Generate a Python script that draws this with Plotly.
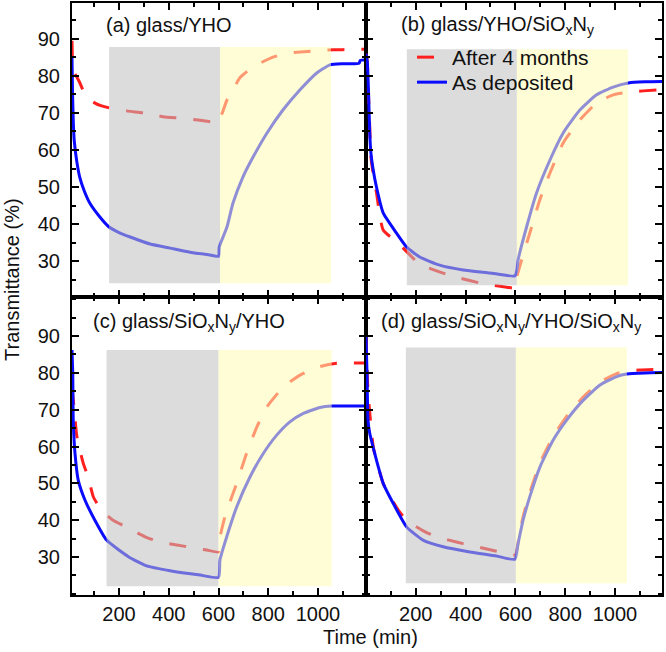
import plotly.graph_objects as go

# ---------------- data ----------------
# (a) glass/YHO
a_dep_t = [11, 13, 16, 20, 30, 42, 60, 83, 123, 160, 200, 245, 325, 405, 485, 560, 600, 603, 634, 658, 698, 739, 795, 859, 927, 995, 1048, 1100, 1165, 1170, 1195]
a_dep_v = [85, 76, 68, 62.5, 57, 52.7, 49, 45.6, 41.9, 39.2, 37.7, 36.5, 34.6, 33.5, 32.4, 31.7, 31.3, 33.8, 39.2, 45.6, 52.7, 58.1, 64.6, 70.8, 76.2, 80.8, 83, 83.3, 83.4, 84.2, 84.3]
a_aged_t = [11, 13, 16, 23, 40, 55, 75, 100, 130, 172, 236, 304, 377, 445, 518, 594, 600, 606, 618, 634, 658, 686, 738, 819, 887, 960, 1028, 1100, 1195]
a_aged_v = [89.5, 84, 81, 80.5, 78.5, 76.2, 74, 72.8, 71.9, 71.2, 70.5, 70, 69, 68.6, 68.1, 67.4, 67.4, 68.5, 70.5, 73.5, 76.2, 79.5, 82.4, 85.1, 86.2, 86.6, 87, 87.1, 87.2]

# (b) glass/YHO/SiOxNy
b_dep_t = [0, 5, 10, 15, 20, 28, 42, 69, 122, 163, 216, 296, 390, 497, 598, 606, 611, 645, 685, 739, 792, 859, 926, 993, 1054, 1120, 1190]
b_dep_v = [86, 84, 76, 64.6, 59, 55, 50, 43, 37.6, 33.8, 31.1, 28.9, 27.6, 26.8, 26, 27.5, 30.3, 39.2, 48.4, 57.3, 64.6, 70.8, 74.9, 77, 78.1, 78.4, 78.5]
b_aged_t = [0, 5, 10, 15, 20, 28, 42, 69, 129, 216, 343, 464, 590, 600, 603, 625, 658, 698, 739, 792, 859, 926, 993, 1061, 1168, 1190]
b_aged_v = [86, 84, 75, 66.2, 58, 54, 48.5, 38.4, 34.9, 29.2, 26, 24, 22.7, 22.5, 25, 30.3, 37.6, 46.5, 53.8, 61.9, 68.1, 72.7, 74.9, 75.7, 76.2, 76.3]

# (c) glass/SiOxNy/YHO
c_dep_t = [11, 14, 16, 23, 36, 63, 103, 150, 238, 311, 405, 526, 600, 606, 633, 673, 727, 780, 834, 887, 941, 1008, 1055, 1120, 1195]
c_dep_v = [86.2, 80, 67.2, 58.2, 50.9, 45.5, 40, 34.6, 30.1, 27.6, 26.3, 25.1, 24.5, 29.3, 35.5, 43.6, 51.8, 58.1, 63.1, 66.7, 69, 70.6, 71, 71, 71]
c_aged_t = [11, 20, 30, 56, 76, 97, 131, 176, 216, 305, 365, 432, 499, 553, 600, 602, 626, 659, 673, 713, 754, 794, 861, 928, 1008, 1075, 1195]
c_aged_v = [76, 70, 63, 55.5, 51.7, 46.3, 42.7, 40, 38.6, 35.5, 34.1, 33.3, 32.5, 31.9, 31.4, 34.1, 41, 47.4, 50, 58.2, 65.3, 70.7, 76.2, 79.4, 81.7, 82.6, 82.7]

# (d) glass/SiOxNy/YHO/SiOxNy
d_dep_t = [0, 4, 8, 15, 28, 42, 69, 109, 163, 229, 310, 417, 524, 598, 611, 631, 658, 699, 752, 806, 873, 940, 1007, 1047, 1120, 1190]
d_dep_v = [90, 80, 67.2, 63.6, 60, 56.3, 50, 44.6, 38.2, 34.6, 32.8, 31.4, 30.3, 29.4, 33.7, 40, 46.4, 54.5, 61.8, 67.2, 72.6, 76.7, 79, 79.7, 80, 80.1]
d_aged_t = [0, 4, 8, 14, 30, 69, 89, 129, 163, 236, 283, 363, 417, 490, 550, 600, 611, 631, 658, 699, 752, 806, 873, 940, 1007, 1047, 1100, 1190]
d_aged_v = [90, 82, 75, 70, 59.5, 50, 47.3, 42.8, 40, 36.9, 35.5, 34.1, 33.2, 32.1, 31.2, 30.6, 34, 41, 47.5, 55.5, 62.8, 68.2, 73.5, 77.5, 79.8, 80.5, 80.8, 81]

# illumination periods (dark/grey, then light/yellow) per panel: [x0, x1, y0, y1]
grey_a = [160, 606, 24.0, 87.8]
yell_a = [606, 1052, 24.0, 87.8]
grey_b = [164, 606, 23.5, 87.2]
yell_b = [606, 1052, 23.5, 87.2]
grey_c = [150, 600, 22.1, 86.2]
yell_c = [600, 1055, 22.1, 86.2]
grey_d = [160, 602, 22.9, 86.9]
yell_d = [602, 1048, 22.9, 86.9]

panel_labels = ["(a) glass/YHO",
                "(b) glass/YHO/SiO<sub>x</sub>N<sub>y</sub>",
                "(c) glass/SiO<sub>x</sub>N<sub>y</sub>/YHO",
                "(d) glass/SiO<sub>x</sub>N<sub>y</sub>/YHO/SiO<sub>x</sub>N<sub>y</sub>"]
series_names = ["After 4 months", "As deposited"]
x_ticks = [200, 400, 600, 800, 1000]
y_ticks = [30, 40, 50, 60, 70, 80, 90]

# ---------------- figure ----------------
W, H = 666, 652
FONT = "Arial, 'Liberation Sans', sans-serif"
RED = "#ff1f1f"
BLUE = "#0a0aff"

fig = go.Figure()

# axis ids: top-left (x3,y3), top-right (x4,y4), bottom-left (x,y), bottom-right (x2,y2)
panels = [
    ("x3", "y3", a_aged_t, a_aged_v, a_dep_t, a_dep_v, grey_a, yell_a),
    ("x4", "y4", b_aged_t, b_aged_v, b_dep_t, b_dep_v, grey_b, yell_b),
    ("x", "y", c_aged_t, c_aged_v, c_dep_t, c_dep_v, grey_c, yell_c),
    ("x2", "y2", d_aged_t, d_aged_v, d_dep_t, d_dep_v, grey_d, yell_d),
]

for i, (xa, ya, at, av, dt, dv, gr, ye) in enumerate(panels):
    fig.add_trace(go.Scatter(x=at, y=av, xaxis=xa, yaxis=ya, mode="lines",
                             line=dict(color=RED, width=3, dash="17px,17px", shape="spline", smoothing=0.5),
                             name=series_names[0], showlegend=(i == 1), legend="legend"))
    fig.add_trace(go.Scatter(x=dt, y=dv, xaxis=xa, yaxis=ya, mode="lines",
                             line=dict(color=BLUE, width=3, shape="spline", smoothing=0.5),
                             name=series_names[1], showlegend=(i == 1), legend="legend2"))
    for reg, col in ((gr, "#bfbfbf"), (ye, "#fffbb2")):
        fig.add_shape(type="rect", xref=xa, yref=ya, x0=reg[0], x1=reg[1], y0=reg[2], y1=reg[3],
                      fillcolor=col, opacity=0.55, line=dict(width=0), layer="above")

# domains (pixel based)
xl = [72 / W, 366 / W]
xr = [366 / W, 662 / W]
yt = [(H - 297) / H, (H - 3) / H]
yb = [(H - 595) / H, (H - 297) / H]

common = dict(showline=True, linecolor="black", linewidth=2, mirror="ticks",
              ticks="inside", ticklen=7, tickwidth=2, tickcolor="black",
              showgrid=False, zeroline=False,
              tickfont=dict(family=FONT, size=20, color="#111"))
xmin = dict(ticks="inside", ticklen=4, tickwidth=2, tickcolor="black", dtick=100, tick0=0, showgrid=False)
ymin = dict(ticks="inside", ticklen=4, tickwidth=2, tickcolor="black", dtick=5, tick0=0, showgrid=False)

fig.update_layout(
    xaxis=dict(domain=xl, anchor="y", range=[11, 1193], tickvals=x_ticks, minor=xmin, **common),
    xaxis2=dict(domain=xr, anchor="y2", range=[0, 1189], tickvals=x_ticks, minor=xmin, **common),
    xaxis3=dict(domain=xl, anchor="y3", range=[11, 1193], tickvals=x_ticks, showticklabels=False, minor=xmin, **common),
    xaxis4=dict(domain=xr, anchor="y4", range=[0, 1189], tickvals=x_ticks, showticklabels=False, minor=xmin, **common),
    yaxis=dict(domain=yb, anchor="x", range=[19.7, 100.6], tickvals=y_ticks, minor=ymin, ticklabelstandoff=6, **common),
    yaxis2=dict(domain=yb, anchor="x2", range=[19.7, 100.6], tickvals=y_ticks, showticklabels=False, minor=ymin, **common),
    yaxis3=dict(domain=yt, anchor="x3", range=[20.3, 99.7], tickvals=y_ticks, minor=ymin, ticklabelstandoff=6, **common),
    yaxis4=dict(domain=yt, anchor="x4", range=[20.3, 99.7], tickvals=y_ticks, showticklabels=False, minor=ymin, **common),
)

# panel labels
label_pos = [(104, 25), (399, 25), (91, 322), (379, 322)]
for txt, (px, py) in zip(panel_labels, label_pos):
    fig.add_annotation(text=txt, xref="paper", yref="paper", x=px / W, y=(H - py) / H,
                       xanchor="left", yanchor="middle", showarrow=False,
                       font=dict(family=FONT, size=20, color="#111"))

# axis titles
fig.add_annotation(text="Transmittance (%)", xref="paper", yref="paper", x=12 / W, y=(H - 280) / H,
                   textangle=-90, xanchor="center", yanchor="middle", showarrow=False,
                   font=dict(family=FONT, size=20, color="#111"))
fig.add_annotation(text="Time (min)", xref="paper", yref="paper", x=370 / W, y=(H - 637) / H,
                   xanchor="center", yanchor="middle", showarrow=False,
                   font=dict(family=FONT, size=20, color="#111"))

leg_common = dict(xanchor="left", yanchor="top", bgcolor="rgba(0,0,0,0)", borderwidth=0,
                  font=dict(family=FONT, size=21, color="#111"))
fig.update_layout(
    width=W, height=H, margin=dict(l=0, r=0, t=0, b=0),
    paper_bgcolor="white", plot_bgcolor="white",
    showlegend=True,
    legend=dict(x=412 / W, y=(H - 37) / H, **leg_common),
    legend2=dict(x=412 / W, y=(H - 62) / H, **leg_common),
)

fig.write_html("out.html")
